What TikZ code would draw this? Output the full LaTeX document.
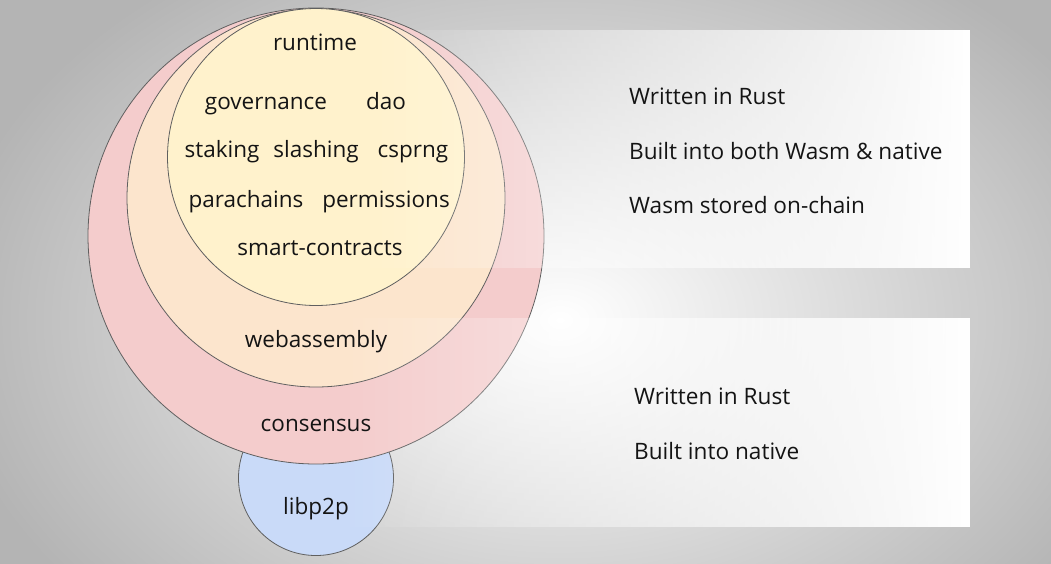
\documentclass[tikz,border=0pt]{standalone}
\usepackage{fontspec}
\setmainfont{Open Sans}
\usetikzlibrary{fadings}
\tikzfading[name=panelfade, left color=transparent!100, right color=transparent!0]
\definecolor{conscol}{HTML}{F4CCCC}
\definecolor{wasmcol}{HTML}{FCE5CD}
\definecolor{runcol}{HTML}{FFF2CC}
\definecolor{p2pcol}{HTML}{C9DAF8}
\definecolor{edgecol}{HTML}{5F5F5F}
\definecolor{txtcol}{HTML}{141414}
\definecolor{bgout}{HTML}{B4B4B4}
\begin{document}
\begin{tikzpicture}[x=1pt,y=-1pt,
  ring/.style={circle, draw=edgecol, line width=0.8pt, inner sep=0pt, outer sep=0pt},
  lbl/.style={anchor=base, text=txtcol, font=\fontsize{22.5}{27}\selectfont, inner sep=0pt},
  note/.style={anchor=base west, text=txtcol, font=\fontsize{22.6}{27}\selectfont, inner sep=0pt},
  panel/.style={fill=white, path fading=panelfade}]
\useasboundingbox (0,0) rectangle (1051,563);
\begin{scope}
\clip (0,0) rectangle (1051,563);
\shade[inner color=white, outer color=bgout] (-60,-110) rectangle (1180,750);
\end{scope}
% circles
\node[ring, fill=p2pcol, minimum size=155pt] (p2p) at (316,478) {};
\node[ring, fill=conscol, minimum size=456pt] (cons) at (316,236) {};
\node[ring, fill=wasmcol, minimum size=378pt] (wasm) at (316,198) {};
\node[ring, fill=runcol, minimum size=297pt] (run) at (316,157) {};
% panels
\fill[panel] (360,30) rectangle (970,268);
\fill[panel] (340,318) rectangle (970,527);
% labels
\node[lbl] (truntime) at (315,50) {runtime};
\node[lbl] (tgov) at (266,109) {governance};
\node[lbl] (tdao) at (386,109) {dao};
\node[lbl] (tstak) at (222,157) {staking};
\node[lbl] (tslash) at (316,157) {slashing};
\node[lbl] (tcsprng) at (413,157) {csprng};
\node[lbl] (tpara) at (246,207) {parachains};
\node[lbl] (tperm) at (386,207) {permissions};
\node[lbl] (tsmart) at (320,255) {smart-contracts};
\node[lbl] (twasm) at (316,347) {webassembly};
\node[lbl] (tcons) at (316,431) {consensus};
\node[lbl] (tp2p) at (316,514) {libp2p};
\node[note] (n1) at (629,104) {Written in Rust};
\node[note] (n2) at (629,159) {Built into both Wasm \& native};
\node[note] (n3) at (629,213) {Wasm stored on-chain};
\node[note] (n4) at (634,404) {Written in Rust};
\node[note] (n5) at (634,459) {Built into native};
\end{tikzpicture}
\end{document}
